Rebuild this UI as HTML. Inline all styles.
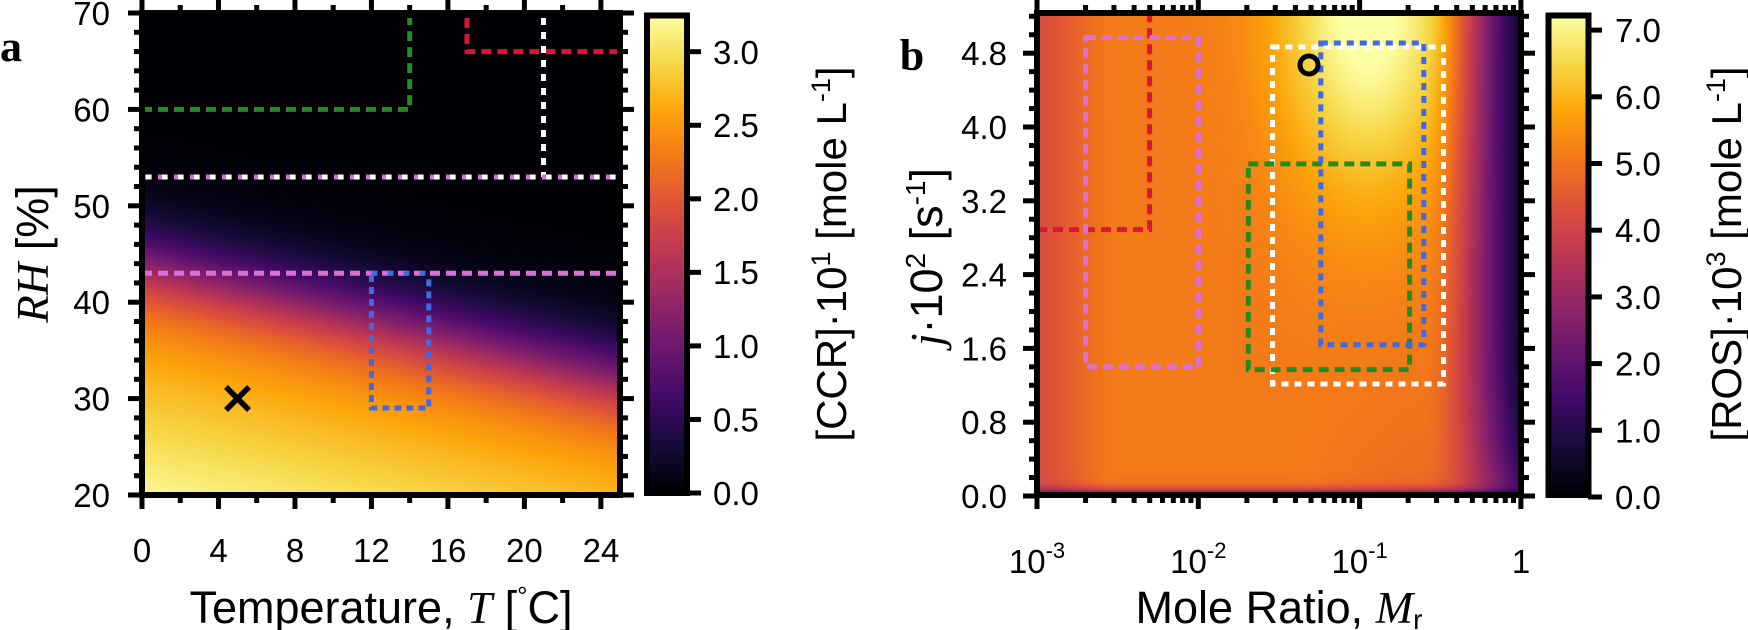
<!DOCTYPE html>
<html><head><meta charset="utf-8"><style>
html,body{margin:0;padding:0;background:#fff;}
#wrap{position:relative;width:1748px;height:630px;overflow:hidden;}
canvas{position:absolute;}
svg{position:absolute;left:0;top:0;}
text{font-family:"Liberation Sans",sans-serif;fill:#000;}
.tk{font-size:33px;}
.ti{font-size:45px;}
.cb{font-size:42px;}
.it{font-family:"Liberation Serif",serif;font-style:italic;}
.pl{font-family:"Liberation Serif",serif;font-weight:bold;font-size:44px;}
</style></head><body><div id="wrap">
<canvas id="ca" width="240" height="240" style="left:142px;top:13px;width:478px;height:482px;"></canvas>
<canvas id="cbm" width="240" height="240" style="left:1037px;top:13px;width:484px;height:482px;"></canvas>
<svg width="1748" height="630" viewBox="0 0 1748 630">
<defs>
<linearGradient id="inf" x1="0" y1="1" x2="0" y2="0">
<stop offset="0" stop-color="rgb(0,0,4)"/><stop offset="0.1" stop-color="rgb(22,11,57)"/>
<stop offset="0.2" stop-color="rgb(66,10,104)"/><stop offset="0.3" stop-color="rgb(106,23,110)"/>
<stop offset="0.4" stop-color="rgb(147,38,103)"/><stop offset="0.5" stop-color="rgb(188,55,84)"/>
<stop offset="0.6" stop-color="rgb(221,81,58)"/><stop offset="0.7" stop-color="rgb(243,120,25)"/>
<stop offset="0.8" stop-color="rgb(252,165,10)"/><stop offset="0.9" stop-color="rgb(246,215,70)"/>
<stop offset="1" stop-color="rgb(252,255,164)"/>
</linearGradient>
</defs>
<g id="ticks" stroke="#000" stroke-width="5"></g>

<!-- Panel a overlays -->
<g fill="none" stroke-width="5">
<polyline points="142,109.4 409.7,109.4 409.7,18" stroke="#228b22" stroke-dasharray="10,6"/>
<polyline points="467,18 467,51.6 620,51.6" stroke="#dc143c" stroke-dasharray="10,6"/>
<line x1="543.5" y1="18" x2="543.5" y2="177" stroke="#fff" stroke-dasharray="7,7"/>
<line x1="142" y1="177" x2="620" y2="177" stroke="#da70d6" stroke-dasharray="10,6"/>
<line x1="146" y1="177" x2="620" y2="177" stroke="#fff" stroke-dasharray="5,11"/>
<line x1="142" y1="273.3" x2="620" y2="273.3" stroke="#da70d6" stroke-dasharray="10,6"/>
<polyline points="371.4,275 371.4,408 428.8,408 428.8,275" stroke="#4169e1" stroke-dasharray="7,5"/>
<line x1="371.4" y1="273.3" x2="428.8" y2="273.3" stroke="#4169e1" stroke-dasharray="6,10"/>
<g stroke="#000" stroke-width="5.5"><line x1="226" y1="387" x2="249" y2="410"/><line x1="249" y1="387" x2="226" y2="410"/></g>
</g>

<!-- Panel b overlays -->
<g fill="none" stroke-width="5">
<polyline points="1037,229.6 1149.6,229.6 1149.6,16" stroke="#dc143c" stroke-dasharray="10,6"/>
<rect x="1085.6" y="37.6" width="113" height="329.3" stroke="#da70d6" stroke-dasharray="10,6"/>
<rect x="1272.5" y="47" width="171" height="337" stroke="#fff" stroke-dasharray="7,6"/>
<rect x="1248.3" y="163.9" width="161.3" height="205.7" stroke="#228b22" stroke-dasharray="10,6"/>
<rect x="1320.8" y="43" width="103" height="301.7" stroke="#4169e1" stroke-dasharray="7,6"/>
<circle cx="1309" cy="65" r="9" stroke="#000" stroke-width="5"/>
</g>

<!-- frames -->
<g fill="none" stroke="#000" stroke-width="6">
<rect x="142" y="13" width="478" height="482"/>
<rect x="1037" y="13" width="484" height="482"/>
</g>
<rect x="647" y="15.5" width="40" height="477.5" fill="url(#inf)" stroke="#000" stroke-width="6"/>
<rect x="1548.5" y="15.5" width="40" height="479.5" fill="url(#inf)" stroke="#000" stroke-width="6"/>

<!-- labels -->
<text class="pl" x="0" y="61">a</text>
<text class="pl" x="912" y="70" text-anchor="middle">b</text>

<g class="tk" text-anchor="middle">
<text x="142" y="562">0</text><text x="218.5" y="562">4</text><text x="295" y="562">8</text>
<text x="371.4" y="562">12</text><text x="448" y="562">16</text><text x="524.4" y="562">20</text><text x="601" y="562">24</text>
</g>
<g class="tk" text-anchor="end">
<text x="110" y="507">20</text><text x="110" y="410.6">30</text><text x="110" y="314.2">40</text>
<text x="110" y="217.8">50</text><text x="110" y="121.4">60</text><text x="110" y="25">70</text>
</g>
<g class="tk">
<text x="713" y="505">0.0</text><text x="713" y="431.5">0.5</text><text x="713" y="358">1.0</text>
<text x="713" y="284">1.5</text><text x="713" y="211">2.0</text><text x="713" y="137">2.5</text><text x="713" y="64">3.0</text>
</g>
<g class="tk" text-anchor="end">
<text x="1007" y="508">0.0</text><text x="1007" y="434.2">0.8</text><text x="1007" y="360.4">1.6</text>
<text x="1007" y="286.6">2.4</text><text x="1007" y="212.8">3.2</text><text x="1007" y="139">4.0</text><text x="1007" y="65.2">4.8</text>
</g>
<g class="tk">
<text x="1615" y="509">0.0</text><text x="1615" y="442.3">1.0</text><text x="1615" y="375.6">2.0</text>
<text x="1615" y="309">3.0</text><text x="1615" y="242.2">4.0</text><text x="1615" y="175.5">5.0</text>
<text x="1615" y="108.8">6.0</text><text x="1615" y="42.1">7.0</text>
</g>
<g class="tk" text-anchor="middle">
<text x="1037" y="573">10<tspan font-size="22" dy="-15">-3</tspan></text>
<text x="1198.3" y="573">10<tspan font-size="22" dy="-15">-2</tspan></text>
<text x="1359.6" y="573">10<tspan font-size="22" dy="-15">-1</tspan></text>
<text x="1521" y="573">1</text>
</g>

<text class="ti" x="381" y="623" text-anchor="middle">Temperature, <tspan class="it">T</tspan> [<tspan font-size="26" dy="-18">°</tspan><tspan dy="18">C]</tspan></text>
<text class="ti" x="1279" y="623" text-anchor="middle">Mole Ratio, <tspan class="it">M</tspan><tspan font-size="28" dy="6">r</tspan></text>
<text class="ti" transform="translate(48,254) rotate(-90)" text-anchor="middle"><tspan class="it">RH</tspan> [%]</text>
<text class="ti" transform="translate(942,257) rotate(-90)" text-anchor="middle"><tspan class="it">j</tspan>·10<tspan font-size="28" dy="-17">2</tspan><tspan dy="17"> [s</tspan><tspan font-size="28" dy="-17">-1</tspan><tspan dy="17">]</tspan></text>
<text class="cb" transform="translate(846,254) rotate(-90)" text-anchor="middle">[CCR]·10<tspan font-size="27" dy="-16">1</tspan><tspan dy="16"> [mole L</tspan><tspan font-size="27" dy="-16">-1</tspan><tspan dy="16">]</tspan></text>
<text class="cb" transform="translate(1741,254) rotate(-90)" text-anchor="middle">[ROS]·10<tspan font-size="27" dy="-16">3</tspan><tspan dy="16"> [mole L</tspan><tspan font-size="27" dy="-16">-1</tspan><tspan dy="16">]</tspan></text>
</svg>
</div>
<script>
var stops=[[0,0,4],[22,11,57],[66,10,104],[106,23,110],[147,38,103],[188,55,84],[221,81,58],[243,120,25],[252,165,10],[246,215,70],[252,255,164]];
function inf(t){t=Math.max(0,Math.min(1,t))*10;var i=Math.min(9,Math.floor(t)),f=t-i,a=stops[i],b=stops[i+1];
return [a[0]+(b[0]-a[0])*f,a[1]+(b[1]-a[1])*f,a[2]+(b[2]-a[2])*f];}
function sm(a,b,x){var t=Math.max(0,Math.min(1,(x-a)/(b-a)));return t*t*(3-2*t);}
function fill(id,fn){var c=document.getElementById(id),ctx=c.getContext('2d'),W=c.width,H=c.height,im=ctx.createImageData(W,H);
for(var y=0;y<H;y++)for(var x=0;x<W;x++){var col=inf(fn((x+0.5)/W,1-(y+0.5)/H));var k=(y*W+x)*4;
im.data[k]=col[0];im.data[k+1]=col[1];im.data[k+2]=col[2];im.data[k+3]=255;}ctx.putImageData(im,0,0);}
// panel a: T 0..25, RH 20..70
fill('ca',function(px,py){var T=px*25,RH=20+py*50;var d=RH-20+0.48*T;
var f=(1-0.012*d)/(1+Math.exp((d-24.5)/2.8));if(f<0)f=0;
return 3.2*f/3.25;});
// panel b: u 0..3 (log Mr +3), j 0..5.22
fill('cbm',function(px,py){var u=px*3,j=py*5.22;
var v=4.3+0.8*sm(0,0.5,u);
v-=0.3*sm(1.5,2.5,u)*Math.exp(-j/1.0);
v+=2.4*Math.exp(-Math.pow((u-2.05)/0.55,2))*Math.exp(-Math.pow((5.3-j)/2.0,2));
var e=3.15+0.25*Math.exp(-j/0.5);var g=1-sm(2.4,e,u);
v*=g;v*=1-Math.exp(-j/0.04);return v/7.25;});
// ticks
var G=document.getElementById('ticks'),s='';
function L(x1,y1,x2,y2){s+='<line x1="'+x1+'" y1="'+y1+'" x2="'+x2+'" y2="'+y2+'"/>';}
for(var T=0;T<=24;T+=2){var X=142+T*19.12,m=(T%4==0)?14:8;L(X,495,X,495+m);L(X,13,X,13-m);}
for(var R=20;R<=70;R+=2){var Y=495-(R-20)*9.64,m=(R%10==0)?14:8;L(142,Y,142-m,Y);L(620,Y,620+m,Y);}
for(var i=0;i<=26;i++){var jv=i*0.2,Y=496-92.25*jv,m=(i%4==0)?14:8;if(Y<12)continue;L(1037,Y,1037-m,Y);L(1521,Y,1521+m,Y);}
for(var n=-3;n<=0;n++){for(var k=1;k<=9;k++){if(n==0&&k>1)break;var X=1037+(n+3+Math.log10(k))*161.3,m=(k==1)?14:8;L(X,495,X,495+m);L(X,13,X,13-m);}}
for(var v=0;v<=3;v+=0.5){var Y=493-v*147.1;L(687,Y,701,Y);}
for(var v=0;v<=7;v++){var Y=497-v*66.7;L(1588,Y,1602,Y);}
G.innerHTML=s;
</script>
</body></html>
